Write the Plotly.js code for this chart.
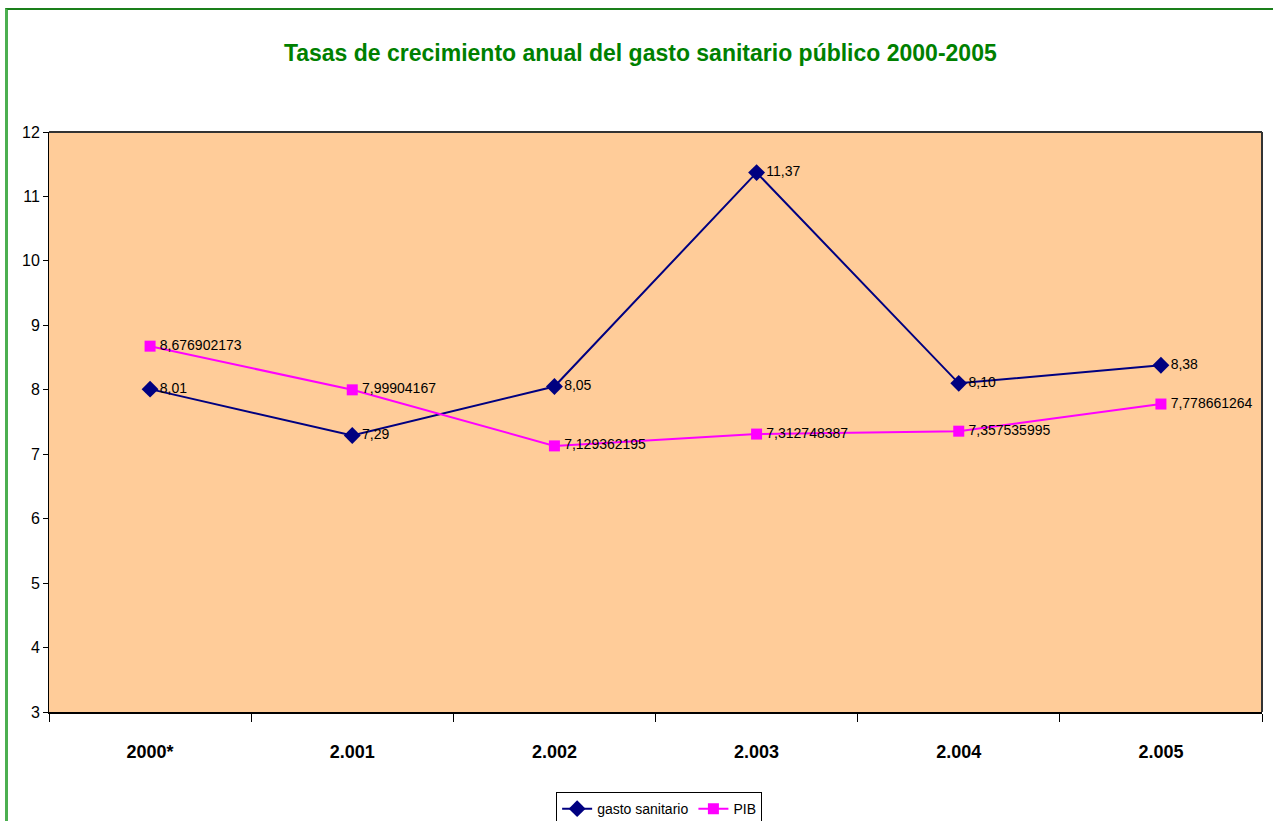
<!DOCTYPE html>
<html>
<head>
<meta charset="utf-8">
<script src="https://cdn.plot.ly/plotly-3.0.1.min.js"></script>
<style>
html,body{margin:0;padding:0;background:#fff;overflow:hidden;}
#chart{position:absolute;left:0;top:0;width:1273px;height:821px;}
#frame{position:absolute;left:5px;top:8px;width:1400px;height:900px;border-left:3px solid #4caf50;border-top:2px solid #1a7f1a;pointer-events:none;}
</style>
</head>
<body>
<div id="chart"></div>
<div id="frame"></div>
<script>
var categories = ["2000*", "2.001", "2.002", "2.003", "2.004", "2.005"];
var gastoSanitario = [8.01, 7.29, 8.05, 11.37, 8.10, 8.38];
var gastoLabels = ["8,01", "7,29", "8,05", "11,37", "8,10", "8,38"];
var pib = [8.676902173, 7.99904167, 7.129362195, 7.312748387, 7.357535995, 7.778661264];
var pibLabels = ["8,676902173", "7,99904167", "7,129362195", "7,312748387", "7,357535995", "7,778661264"];
var yTicks = [3, 4, 5, 6, 7, 8, 9, 10, 11, 12];

var FONT = '"Liberation Sans Narrow", "Arial Narrow", "Liberation Sans", Arial, sans-serif';

var traces = [
  {
    x: categories, y: gastoSanitario, name: 'gasto sanitario', type: 'scatter', mode: 'lines+markers',
    line: {color: '#000080', width: 2},
    marker: {symbol: 'diamond', size: 13, color: '#000080'}
  },
  {
    x: categories, y: pib, name: 'PIB', type: 'scatter', mode: 'lines+markers',
    line: {color: '#FF00FF', width: 2},
    marker: {symbol: 'square', size: 11, color: '#FF00FF'}
  },
  {
    x: categories, y: gastoSanitario, text: gastoLabels, type: 'scatter', mode: 'markers+text',
    marker: {size: 14, opacity: 0},
    textposition: 'middle right', showlegend: false, hoverinfo: 'skip',
    textfont: {family: FONT, size: 14, color: '#000'}
  },
  {
    x: categories, y: pib, text: pibLabels, type: 'scatter', mode: 'markers+text',
    marker: {size: 14, opacity: 0},
    textposition: 'middle right', showlegend: false, hoverinfo: 'skip',
    textfont: {family: FONT, size: 14, color: '#000'}
  }
];

var layout = {
  width: 1273, height: 821,
  margin: {l: 49, r: 11, t: 132, b: 109, autoexpand: false},
  paper_bgcolor: '#ffffff',
  plot_bgcolor: '#FFCC99',
  font: {family: FONT, color: '#000'},
  title: {
    text: '<b>Tasas de crecimiento anual del gasto sanitario público 2000-2005</b>',
    font: {family: FONT, size: 23, color: '#008000'},
    x: 0.503, xanchor: 'center', y: 0.936, yanchor: 'middle'
  },
  xaxis: {
    type: 'category',
    categoryarray: categories,
    tickson: 'boundaries',
    automargin: false,
    ticks: 'outside', ticklen: 8, tickcolor: '#000', tickwidth: 1,
    showline: true, linecolor: '#000', linewidth: 2, mirror: false,
    showgrid: false, zeroline: false,
    tickfont: {family: FONT, size: 18, color: '#000', weight: 'bold'},
    ticklabelstandoff: 22,
    range: [-0.5, 5.5]
  },
  yaxis: {
    range: [3, 12],
    automargin: false,
    tickvals: yTicks,
    ticks: 'outside', ticklen: 5, tickcolor: '#000',
    showline: true, linecolor: '#000', linewidth: 1, mirror: false,
    showgrid: false, zeroline: false,
    tickfont: {family: FONT, size: 16, color: '#000'}
  },
  shapes: [
    {type: 'line', xref: 'paper', yref: 'paper', x0: 0, x1: 1, y0: 1, y1: 1, line: {color: '#333', width: 2}},
    {type: 'line', xref: 'paper', yref: 'paper', x0: 1, x1: 1, y0: 0, y1: 1, line: {color: '#333', width: 2}}
  ],
  showlegend: true,
  legend: {
    orientation: 'h', x: 0.503, xanchor: 'center', y: -0.138, yanchor: 'top',
    bgcolor: '#fff', bordercolor: '#000', borderwidth: 1,
    font: {family: FONT, size: 14, color: '#000'},
    itemwidth: 30, tracegroupgap: 0
  }
};

Plotly.newPlot('chart', traces, layout, {displayModeBar: false, staticPlot: true});
</script>
</body>
</html>
